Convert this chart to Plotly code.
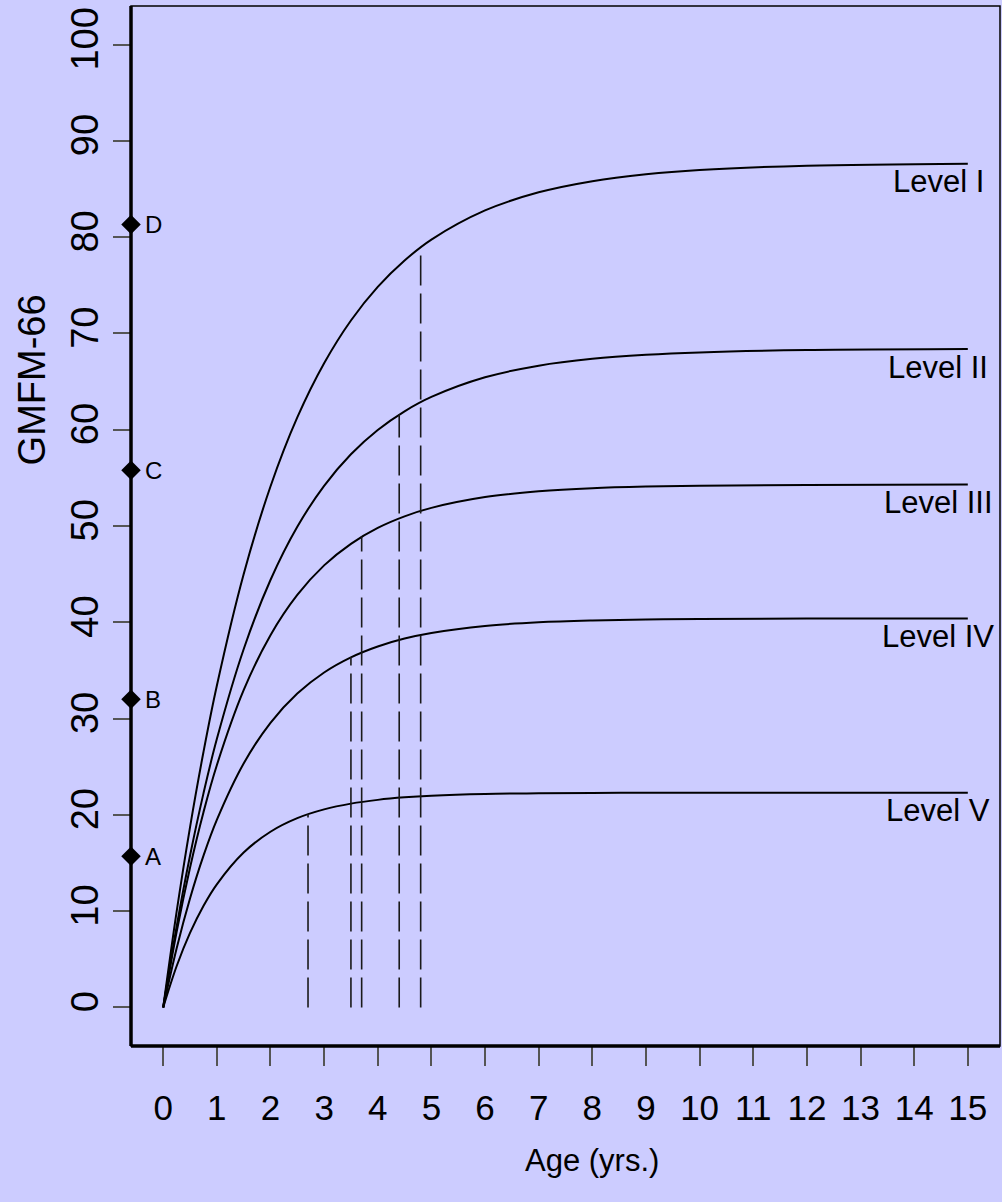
import plotly.graph_objects as go

# ---- data ----
ages = [0, 0.25, 0.5, 0.75, 1, 1.5, 2, 2.5, 3, 3.5, 4, 4.5, 5, 6, 7, 8, 9, 10, 12, 15]
level_I = [0, 9.92, 18.71, 26.50, 33.41, 44.99, 54.10, 61.27, 66.90, 71.34, 74.83, 77.57, 79.74, 82.77, 84.65, 85.81, 86.53, 86.98, 87.42, 87.63]
level_II = [0, 8.39, 15.75, 22.21, 27.87, 37.20, 44.39, 49.92, 54.17, 57.45, 59.97, 61.91, 63.40, 65.44, 66.65, 67.36, 67.78, 68.03, 68.27, 68.37]
level_III = [0, 7.84, 14.52, 20.26, 25.16, 32.95, 38.66, 42.84, 45.91, 48.15, 49.80, 51.00, 51.88, 53.00, 53.60, 53.93, 54.10, 54.19, 54.27, 54.30]
level_IV = [0, 6.13, 11.32, 15.74, 19.48, 25.34, 29.56, 32.60, 34.79, 36.36, 37.49, 38.31, 38.89, 39.62, 40.00, 40.19, 40.29, 40.34, 40.39, 40.40]
level_V = [0, 4.28, 7.74, 10.54, 12.79, 16.09, 18.25, 19.66, 20.57, 21.17, 21.56, 21.82, 21.99, 22.17, 22.24, 22.28, 22.29, 22.30, 22.30, 22.30]
level_names = ["Level I", "Level II", "Level III", "Level IV", "Level V"]
level_series = [level_I, level_II, level_III, level_IV, level_V]

age90 = [4.8, 4.4, 3.7, 3.5, 2.7]
score90 = [78.9, 61.6, 48.9, 36.4, 20.1]

item_labels = ["A", "B", "C", "D"]
item_scores = [15.7, 32.0, 55.8, 81.3]
item_age = -0.6

x_ticks = list(range(0, 16))
y_ticks = list(range(0, 101, 10))

BG = "#CCCCFF"
FONT = "Liberation Sans, Arial, sans-serif"

fig = go.Figure()

for name, ys in zip(level_names, level_series):
    fig.add_trace(go.Scatter(x=ages, y=ys, mode="lines", line=dict(color="black", width=2, shape="spline"),
                             showlegend=False, hoverinfo="skip"))

dx, dy = [], []
for a, s in zip(age90, score90):
    dx += [a, a, None]
    dy += [0, s, None]
fig.add_trace(go.Scatter(x=dx, y=dy, mode="lines", line=dict(color="#1a1a1a", width=1.6, dash="30px,8px"),
                         showlegend=False, hoverinfo="skip"))

fig.add_trace(go.Scatter(x=[item_age] * len(item_scores), y=item_scores, mode="markers",
                         marker=dict(symbol="diamond", size=15, color="black"),
                         cliponaxis=False, showlegend=False, hoverinfo="skip"))

for lab, s in zip(item_labels, item_scores):
    fig.add_annotation(x=item_age, y=s, text=lab, showarrow=False, xanchor="left", yanchor="middle",
                       xshift=12, font=dict(size=24, color="black", family=FONT))

for name, ys in zip(level_names, level_series):
    fig.add_annotation(x=14.45, y=ys[-1], text=name, showarrow=False, xanchor="center", yanchor="middle",
                       yshift=-18, font=dict(size=31, color="black", family=FONT))

# axis titles
fig.add_annotation(x=0.531, y=0, xref="paper", yref="paper", text="Age (yrs.)", showarrow=False,
                   xanchor="center", yanchor="middle", yshift=-114, font=dict(size=31, color="black", family=FONT))
fig.add_annotation(x=0, y=0.64, xref="paper", yref="paper", text="GMFM-66", showarrow=False, textangle=-90,
                   xanchor="center", yanchor="middle", xshift=-99, font=dict(size=38, color="black", family=FONT))

# frame
fig.add_shape(type="rect", xref="paper", yref="paper", x0=0, y0=0, x1=1, y1=1,
              line=dict(color="black", width=1.5), layer="above")
fig.add_shape(type="line", xref="paper", yref="paper", x0=0, y0=0, x1=0, y1=1,
              line=dict(color="black", width=3.5), layer="above")
fig.add_shape(type="line", xref="paper", yref="paper", x0=0, y0=0, x1=1, y1=0,
              line=dict(color="black", width=3.5), layer="above")

fig.update_layout(
    width=1002, height=1202,
    margin=dict(l=131, r=2, t=6, b=156),
    paper_bgcolor=BG, plot_bgcolor=BG,
    font=dict(family=FONT, color="black"),
    xaxis=dict(range=[-0.6, 15.6], tickmode="array", tickvals=x_ticks, ticktext=[str(v) for v in x_ticks],
               showgrid=False, zeroline=False, showline=False, ticks="outside", ticklen=19, tickwidth=1.5,
               tickcolor="#555555", tickfont=dict(size=35, family=FONT), ticklabelstandoff=12),
    yaxis=dict(range=[-4, 104], tickmode="array", tickvals=y_ticks, ticktext=[str(v) for v in y_ticks],
               showgrid=False, zeroline=False, showline=False, ticks="outside", ticklen=17, tickwidth=1.5,
               tickcolor="#555555", tickangle=-90, tickfont=dict(size=38, family=FONT), ticklabelstandoff=0),
)

fig.write_html("out.html", config={"displayModeBar": False},
               post_script="document.body.style.margin='0';document.body.style.padding='0';"
                           "document.body.style.overflow='hidden';document.body.style.background='#CCCCFF';")
